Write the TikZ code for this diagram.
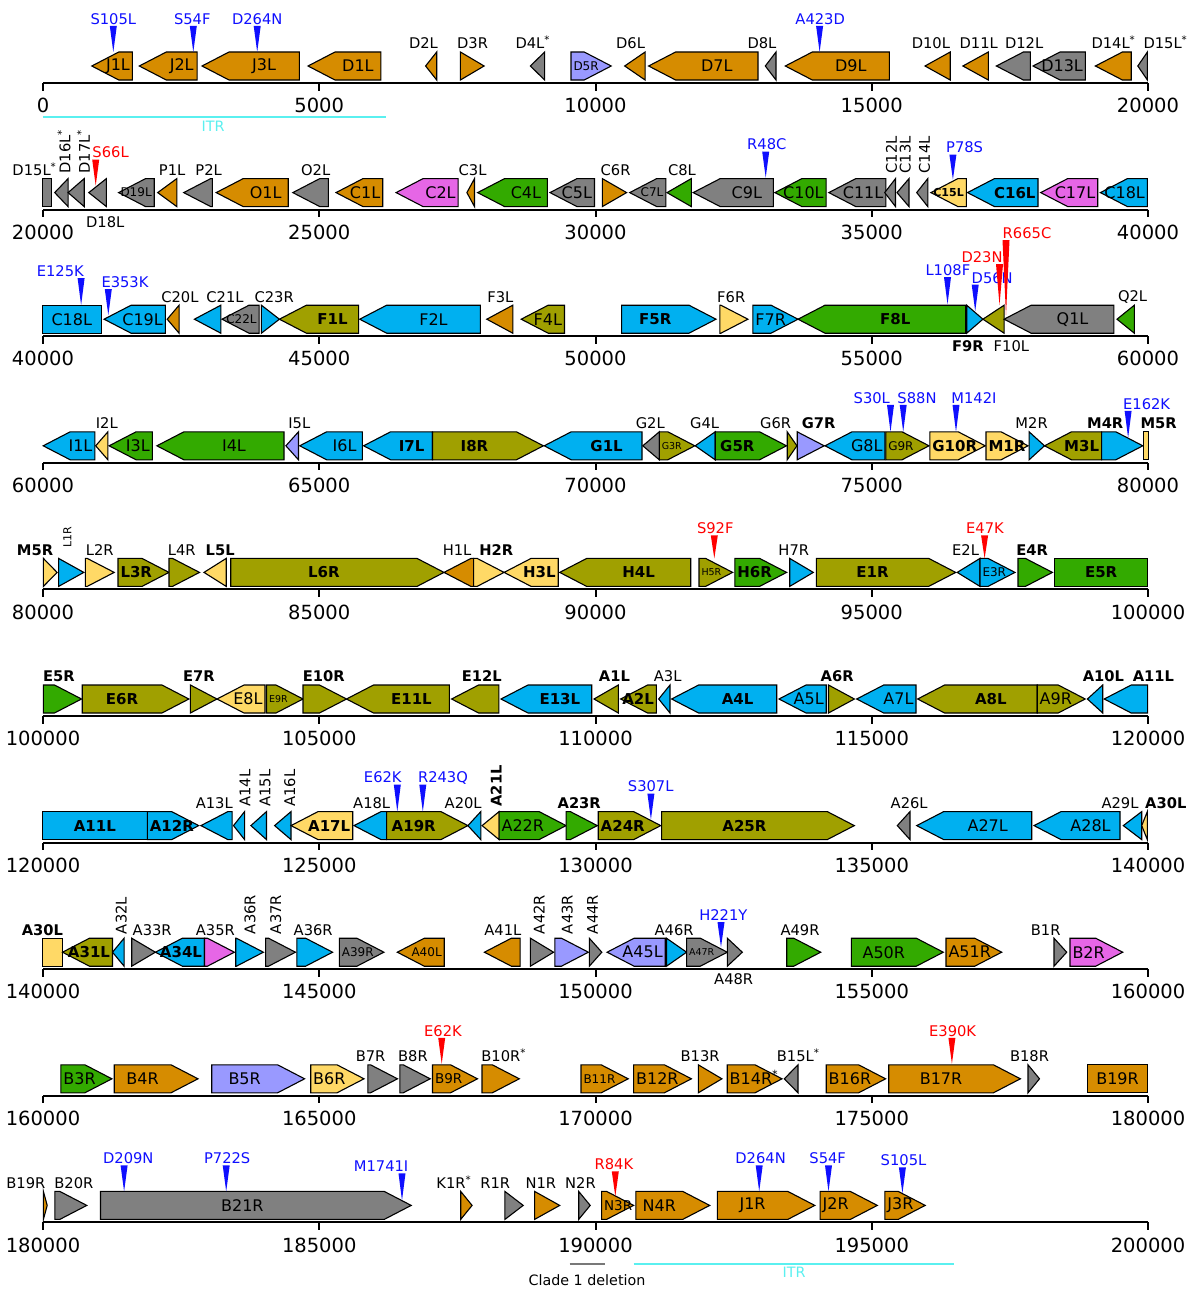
\documentclass[tikz,border=0pt]{standalone}
\usepackage{fontspec}
\setmainfont{DejaVu Sans}
\definecolor{org}{RGB}{214,140,0}
\definecolor{gry}{RGB}{128,128,128}
\definecolor{lav}{RGB}{153,153,255}
\definecolor{mag}{RGB}{230,102,230}
\definecolor{grn}{RGB}{51,170,0}
\definecolor{blu}{RGB}{0,176,240}
\definecolor{olv}{RGB}{160,160,0}
\definecolor{yel}{RGB}{255,217,102}
\definecolor{mblue}{RGB}{15,15,255}
\definecolor{mred}{RGB}{255,0,0}
\definecolor{itrc}{RGB}{90,240,240}
\definecolor{clgray}{RGB}{120,120,120}
\newcommand\gfN{\fontsize{16}{19}\selectfont}
\newcommand\gfB{\fontsize{15}{18}\selectfont\bfseries}
\newcommand\gfS{\fontsize{12}{14}\selectfont}
\newcommand\gfT{\fontsize{9.5}{11}\selectfont}
\newcommand\gfM{\fontsize{13.5}{16}\selectfont}
\newcommand\gfSB{\fontsize{11}{13}\selectfont\bfseries}
\newcommand\gfA{\fontsize{14.7}{17}\selectfont}
\newcommand\gfAB{\fontsize{14.7}{17}\selectfont\bfseries}
\newcommand\gfR{\fontsize{11}{13}\selectfont}
\newcommand\gfTick{\fontsize{19.5}{23}\selectfont}
\newcommand\gfI{\fontsize{14.3}{17}\selectfont}
\newcommand\astr{\rlap{\smash{\textsuperscript{*}}}}
\newcount\nodec
\newsavebox\Gbox
\pgfdeclarelayer{genelayer}
\pgfsetlayers{genelayer,main}
\tikzset{gshape/.style={draw=black,line width=1.1pt,line join=miter},
  axisl/.style={line width=2pt,black}}
% gene: dir x1 x2 color label font
\newcommand\gene[6]{%
  \def\Gtmp{#5}%
  \ifx\Gtmp\empty\def\Gw{0}\else
    \pgfinterruptpicture\global\setbox\Gbox=\hbox{\normalfont#6#5}\endpgfinterruptpicture
    \pgfmathsetmacro\Gw{\the\wd\Gbox}\fi
  \pgfmathsetmacro\Gh{min(27,#3-#2)}%
  \if#1R%
    \pgfmathsetmacro\Gs{#3-\Gh}%
    \begin{pgfonlayer}{genelayer}\filldraw[gshape,fill=#4] (#2,\ya-31) -- (\Gs,\ya-31) -- (#3,\ya-17) -- (\Gs,\ya-3) -- (#2,\ya-3) -- cycle;\end{pgfonlayer}%
    \pgfmathsetmacro\Gx{max((#2+\Gs)/2,#2+2.5+\Gw/2)}%
  \else\if#1L%
    \pgfmathsetmacro\Gs{#2+\Gh}%
    \begin{pgfonlayer}{genelayer}\filldraw[gshape,fill=#4] (#3,\ya-31) -- (\Gs,\ya-31) -- (#2,\ya-17) -- (\Gs,\ya-3) -- (#3,\ya-3) -- cycle;\end{pgfonlayer}%
    \pgfmathsetmacro\Gx{min((#3+\Gs)/2,#3-2.5-\Gw/2)}%
  \else
    \begin{pgfonlayer}{genelayer}\filldraw[gshape,fill=#4] (#2,\ya-31) rectangle (#3,\ya-3);\end{pgfonlayer}%
    \pgfmathsetmacro\Gx{(#2+#3)/2}%
  \fi\fi
  \ifx\Gtmp\empty\else\global\advance\nodec by 1 \node[inner sep=0pt] (g\the\nodec) at (\Gx,\ya-17) {#6#5};\fi
}
\newcommand\alab[3]{\global\advance\nodec by 1 \node[inner sep=0pt] (a\the\nodec) at (#1,\ya-39.5) {#3#2};}
\newcommand\blab[4]{\global\advance\nodec by 1 \node[inner sep=0pt] (b\the\nodec) at (#1,\ya+#4) {#3#2};}
\newcommand\rlab[4]{\global\advance\nodec by 1 \node[inner sep=0pt,rotate=90,anchor=west] (r\the\nodec) at (#1,\ya-#4) {#3#2};}
% mutation: x labelx L T text color
\newcommand\mut[6]{%
  \fill[#6] (#1-3.5,\ya-#3+7) -- (#1+3.5,\ya-#3+7) -- (#1,\ya-#4) -- cycle;
  \global\advance\nodec by 1 \node[inner sep=0pt,text=#6] (m\the\nodec) at (#2,\ya-#3) {\gfA #5};}
\newcommand\axisrow[1]{%
  \draw[axisl] (43,\ya) -- (1148,\ya);
  \foreach \tv [count=\ti from 0] in {#1} {
    \draw[axisl] (43+276.25*\ti,\ya) -- (43+276.25*\ti,\ya+7.5);
    \node[inner sep=0pt,font=\gfTick] (t\ti-\tv) at (43+276.25*\ti,\ya+22.5) {\tv};
  }}
\begin{document}
\begin{tikzpicture}[x=1pt,y=-1pt]
\useasboundingbox (0,0) rectangle (1194,1290);
\begin{pgfonlayer}{genelayer}\fill[white] (0,0) rectangle (1194,1290);\end{pgfonlayer}
% ---------------- row 1
\def\ya{83}
\axisrow{0,5000,10000,15000,20000}
\gene{L}{91.8}{132.4}{org}{J1L}{\gfN}
\gene{L}{139.3}{197.1}{org}{J2L}{\gfN}
\gene{L}{202}{299.3}{org}{J3L}{\gfN}
\gene{L}{308}{380.8}{org}{D1L}{\gfN}
\gene{L}{425.6}{436.7}{org}{}{\gfN}
\gene{R}{460.4}{484.1}{org}{}{\gfN}
\gene{L}{530.4}{544.6}{gry}{}{\gfN}
\gene{R}{571}{611.2}{lav}{D5R}{\gfS}
\gene{L}{624.7}{645.1}{org}{}{\gfN}
\gene{L}{648.6}{758}{org}{D7L}{\gfN}
\gene{L}{765.3}{776}{gry}{}{\gfN}
\gene{L}{785.3}{889.3}{org}{D9L}{\gfN}
\gene{L}{925}{950.2}{org}{}{\gfN}
\gene{L}{962.9}{988.3}{org}{}{\gfN}
\gene{L}{996.4}{1030.3}{gry}{}{\gfN}
\gene{L}{1033}{1085.4}{gry}{D13L}{\gfN}
\gene{L}{1095.4}{1131.2}{org}{}{\gfN}
\gene{L}{1137.8}{1147.4}{gry}{}{\gfN}
\alab{423.5}{D2L}{\gfA}
\alab{472.6}{D3R}{\gfA}
\alab{530}{D4L\astr}{\gfA}
\alab{630.6}{D6L}{\gfA}
\alab{762}{D8L}{\gfA}
\alab{930.9}{D10L}{\gfA}
\alab{978.7}{D11L}{\gfA}
\alab{1024.1}{D12L}{\gfA}
\alab{1110.6}{D14L\astr}{\gfA}
\alab{1162.6}{D15L\astr}{\gfA}
\mut{113.3}{113.3}{64}{31}{S105L}{mblue}
\mut{193.3}{192.3}{64}{31}{S54F}{mblue}
\mut{257.2}{257.2}{64}{31}{D264N}{mblue}
\mut{819.6}{820.2}{64}{31}{A423D}{mblue}
\draw[itrc,line width=2pt] (42.9,116.7) -- (385.8,116.7);
\node[inner sep=0pt,text=itrc] (itr1) at (213,126) {\gfI ITR};
% ---------------- row 2
\def\ya{209.6}
\axisrow{20000,25000,30000,35000,40000}
\gene{B}{42.1}{51.7}{gry}{}{\gfN}
\gene{L}{54.7}{68.1}{gry}{}{\gfN}
\gene{L}{68.1}{84.2}{gry}{}{\gfN}
\gene{L}{88.8}{106.4}{gry}{}{\gfN}
\gene{L}{118.6}{154.2}{gry}{D19L}{\gfS}
\gene{L}{157.7}{176.8}{org}{}{\gfN}
\gene{L}{183.7}{212.4}{gry}{}{\gfN}
\gene{L}{216.2}{288.2}{org}{O1L}{\gfN}
\gene{L}{292.8}{328.4}{gry}{}{\gfN}
\gene{L}{336}{382.7}{org}{C1L}{\gfN}
\gene{L}{396.1}{458.1}{mag}{C2L}{\gfN}
\gene{L}{466.9}{474.5}{org}{}{\gfN}
\gene{L}{477.6}{547.3}{grn}{C4L}{\gfN}
\gene{L}{550}{594.5}{gry}{C5L}{\gfN}
\gene{R}{602.3}{626.6}{org}{}{\gfN}
\gene{L}{629.7}{665.9}{gry}{C7L}{\gfS}
\gene{L}{667}{691.3}{grn}{}{\gfN}
\gene{L}{693.2}{773.4}{gry}{C9L}{\gfN}
\gene{L}{774.9}{826.1}{grn}{C10L}{\gfN}
\gene{L}{828.8}{885.8}{gry}{C11L}{\gfN}
\gene{L}{884.7}{895.5}{gry}{}{\gfN}
\gene{L}{897}{909}{gry}{}{\gfN}
\gene{L}{916.7}{927.8}{gry}{}{\gfN}
\gene{L}{930.9}{966.3}{yel}{C15L}{\gfSB}
\gene{L}{967.5}{1038}{blu}{C16L}{\gfB}
\gene{L}{1040.7}{1097.7}{mag}{C17L}{\gfN}
\gene{L}{1100.4}{1147.4}{blu}{C18L}{\gfN}
\alab{31.6}{D15L\astr}{\gfA}
\rlab{65}{D16L\astr}{\gfA}{36}
\rlab{84.6}{D17L\astr}{\gfA}{36}
\blab{105.2}{D18L}{\gfA}{13}
\alab{172.2}{P1L}{\gfA}
\alab{208.6}{P2L}{\gfA}
\alab{315.7}{O2L}{\gfA}
\alab{472.6}{C3L}{\gfA}
\alab{615.6}{C6R}{\gfA}
\alab{681.9}{C8L}{\gfA}
\rlab{891.4}{C12L}{\gfA}{36}
\rlab{905.3}{C13L}{\gfA}{36}
\rlab{924.6}{C14L}{\gfA}{36}
\mut{95.7}{110.6}{57}{24}{S66L}{mred}
\mut{765.7}{766.8}{65}{32}{R48C}{mblue}
\mut{952.9}{964.6}{62}{30}{P78S}{mblue}
% ---------------- row 3
\def\ya{336.2}
\axisrow{40000,45000,50000,55000,60000}
\gene{B}{42.1}{101.4}{blu}{C18L}{\gfN}
\gene{L}{104.1}{165.3}{blu}{C19L}{\gfN}
\gene{L}{167.2}{179.1}{org}{}{\gfN}
\gene{L}{194.4}{220.8}{blu}{}{\gfN}
\gene{L}{222}{259.1}{gry}{C22L}{\gfS}
\gene{R}{261.4}{279.4}{blu}{}{\gfN}
\gene{L}{279.4}{358.6}{olv}{F1L}{\gfB}
\gene{L}{359.7}{480.3}{blu}{F2L}{\gfN}
\gene{L}{486.8}{512.8}{org}{}{\gfN}
\gene{L}{521.2}{564.5}{olv}{F4L}{\gfN}
\gene{R}{621.6}{716}{blu}{F5R}{\gfB}
\gene{R}{719.8}{747.9}{yel}{}{\gfN}
\gene{R}{752.9}{798}{blu}{F7R}{\gfN}
\gene{L}{798}{965.6}{grn}{F8L}{\gfB}
\gene{R}{966.7}{982.9}{blu}{}{\gfN}
\gene{L}{982.9}{1004.1}{olv}{}{\gfN}
\gene{L}{1004.1}{1113.9}{gry}{Q1L}{\gfN}
\gene{L}{1117}{1134.3}{grn}{}{\gfN}
\alab{179.9}{C20L}{\gfA}
\alab{225}{C21L}{\gfA}
\alab{274.2}{C23R}{\gfA}
\alab{500.4}{F3L}{\gfA}
\alab{731.2}{F6R}{\gfA}
\blab{967.9}{F9R}{\gfAB}{9.5}
\blab{1011.4}{F10L}{\gfA}{9.5}
\alab{1132.6}{Q2L}{\gfA}
\mut{81.1}{60.3}{65}{31}{E125K}{mblue}
\mut{108.3}{125}{54}{21}{E353K}{mblue}
\mut{947.5}{947.9}{66}{32}{L108F}{mblue}
\mut{975.2}{992.2}{58.5}{25}{D56N}{mblue}
\mut{999.5}{982}{79}{31}{D23N}{mred}
\mut{1006}{1027}{103}{21}{R665C}{mred}
% ---------------- row 4
\def\ya{462.8}
\axisrow{60000,65000,70000,75000,80000}
\gene{L}{43.2}{94.9}{blu}{I1L}{\gfN}
\gene{L}{95.7}{107.9}{yel}{}{\gfN}
\gene{L}{109.1}{152.3}{grn}{I3L}{\gfN}
\gene{L}{156.9}{284}{grn}{I4L}{\gfN}
\gene{L}{285.9}{298.5}{lav}{}{\gfN}
\gene{L}{299.7}{362.4}{blu}{I6L}{\gfN}
\gene{L}{363.6}{432.5}{blu}{I7L}{\gfB}
\gene{R}{432.5}{543.4}{olv}{I8R}{\gfB}
\gene{L}{544.2}{642}{blu}{G1L}{\gfB}
\gene{L}{642.8}{659.3}{gry}{}{\gfN}
\gene{R}{659.3}{694.8}{olv}{G3R}{\gfT}
\gene{L}{695.2}{715.2}{blu}{}{\gfN}
\gene{R}{715.2}{786.5}{grn}{G5R}{\gfB}
\gene{R}{787.2}{796.9}{olv}{}{\gfN}
\gene{R}{797.2}{824.2}{lav}{}{\gfN}
\gene{L}{825}{885}{blu}{G8L}{\gfN}
\gene{R}{885.8}{929}{olv}{G9R}{\gfS}
\gene{R}{929.8}{985.2}{yel}{G10R}{\gfB}
\gene{R}{986}{1028}{yel}{M1R}{\gfB}
\gene{R}{1029.1}{1044.5}{blu}{}{\gfN}
\gene{L}{1044.5}{1101.6}{olv}{M3L}{\gfB}
\gene{R}{1101.6}{1142.8}{blu}{}{\gfN}
\gene{B}{1143.5}{1148.5}{yel}{}{\gfN}
\alab{106.8}{I2L}{\gfA}
\alab{299.3}{I5L}{\gfA}
\alab{650.3}{G2L}{\gfA}
\alab{704.6}{G4L}{\gfA}
\alab{775.7}{G6R}{\gfA}
\alab{818.6}{G7R}{\gfAB}
\alab{1031.6}{M2R}{\gfA}
\alab{1105.2}{M4R}{\gfAB}
\alab{1158.6}{M5R}{\gfAB}
\mut{890.5}{871.8}{65}{31}{S30L}{mblue}
\mut{903.2}{917}{65}{31}{S88N}{mblue}
\mut{956}{973.9}{65}{31}{M142I}{mblue}
\mut{1128.1}{1146.6}{59}{25}{E162K}{mblue}
% ---------------- row 5
\def\ya{589.4}
\axisrow{80000,85000,90000,95000,100000}
\gene{R}{43.4}{57.1}{yel}{}{\gfN}
\gene{R}{58.6}{83.8}{blu}{}{\gfN}
\gene{R}{85.3}{114.2}{yel}{}{\gfN}
\gene{R}{118}{169}{olv}{L3R}{\gfB}
\gene{R}{169}{199.5}{olv}{}{\gfN}
\gene{L}{204}{226.2}{yel}{}{\gfN}
\gene{R}{230.7}{444}{olv}{L6R}{\gfB}
\gene{L}{444}{473.6}{org}{}{\gfN}
\gene{R}{473.6}{504.1}{yel}{}{\gfN}
\gene{L}{504.1}{558.2}{yel}{H3L}{\gfB}
\gene{L}{559.7}{690.7}{olv}{H4L}{\gfB}
\gene{R}{699}{732.6}{olv}{H5R}{\gfT}
\gene{R}{734.8}{786.6}{grn}{H6R}{\gfB}
\gene{R}{789.7}{813.3}{blu}{}{\gfN}
\gene{R}{816.3}{955.7}{olv}{E1R}{\gfB}
\gene{L}{957.2}{980}{blu}{}{\gfN}
\gene{R}{980}{1015}{blu}{E3R}{\gfS}
\gene{R}{1018}{1052.4}{grn}{}{\gfN}
\gene{B}{1054.7}{1147.6}{grn}{E5R}{\gfB}
\alab{35}{M5R}{\gfAB}
\rlab{67.4}{L1R}{\gfR}{42}
\alab{99.8}{L2R}{\gfA}
\alab{181.7}{L4R}{\gfA}
\alab{220.2}{L5L}{\gfAB}
\alab{457.1}{H1L}{\gfA}
\alab{496.3}{H2R}{\gfAB}
\alab{793.8}{H7R}{\gfA}
\alab{965.6}{E2L}{\gfA}
\alab{1032.2}{E4R}{\gfAB}
\mut{714.3}{715.3}{61}{31}{S92F}{mred}
\mut{984.6}{985}{61}{31}{E47K}{mred}
% ---------------- row 6
\def\ya{716}
\axisrow{100000,105000,110000,115000,120000}
\gene{R}{43.4}{81.5}{grn}{}{\gfN}
\gene{R}{82.2}{188.9}{olv}{E6R}{\gfB}
\gene{R}{190.4}{217}{olv}{}{\gfN}
\gene{L}{217}{265}{yel}{E8L}{\gfN}
\gene{R}{266.5}{303}{olv}{E9R}{\gfT}
\gene{R}{303}{346.5}{olv}{}{\gfN}
\gene{L}{346.5}{449.3}{olv}{E11L}{\gfB}
\gene{L}{451.6}{498.8}{olv}{}{\gfN}
\gene{L}{501}{591.7}{blu}{E13L}{\gfB}
\gene{L}{594}{618.3}{olv}{}{\gfN}
\gene{L}{620.6}{656.4}{olv}{A2L}{\gfB}
\gene{L}{658.7}{670}{blu}{}{\gfN}
\gene{L}{671.6}{776.7}{blu}{A4L}{\gfB}
\gene{L}{779}{826.2}{blu}{A5L}{\gfN}
\gene{R}{828.5}{854.4}{olv}{}{\gfN}
\gene{L}{856.7}{916}{blu}{A7L}{\gfN}
\gene{L}{917.6}{1037.2}{olv}{A8L}{\gfB}
\gene{R}{1037.2}{1085.2}{olv}{A9R}{\gfN}
\gene{L}{1087.4}{1102.7}{blu}{}{\gfN}
\gene{L}{1104.2}{1147.6}{blu}{}{\gfN}
\alab{59}{E5R}{\gfAB}
\alab{198.8}{E7R}{\gfAB}
\alab{323.8}{E10R}{\gfAB}
\alab{481.8}{E12L}{\gfAB}
\alab{614.4}{A1L}{\gfAB}
\alab{667.7}{A3L}{\gfA}
\alab{837.2}{A6R}{\gfAB}
\alab{1103.4}{A10L}{\gfAB}
\alab{1153.4}{A11L}{\gfAB}
% ---------------- row 7
\def\ya{842.6}
\axisrow{120000,125000,130000,135000,140000}
\gene{B}{42.4}{147.3}{blu}{A11L}{\gfB}
\gene{R}{147.3}{198.7}{blu}{A12R}{\gfB}
\gene{L}{200.9}{232.1}{blu}{}{\gfN}
\gene{L}{233.5}{244.6}{blu}{}{\gfN}
\gene{L}{250.9}{266.5}{blu}{}{\gfN}
\gene{L}{274.6}{291}{blu}{}{\gfN}
\gene{L}{291}{352.7}{yel}{A17L}{\gfB}
\gene{L}{354}{386.6}{blu}{}{\gfN}
\gene{R}{386.6}{467.9}{olv}{A19R}{\gfB}
\gene{L}{467.9}{480.8}{blu}{}{\gfN}
\gene{L}{482.1}{499.1}{yel}{}{\gfN}
\gene{R}{499.1}{566.1}{grn}{A22R}{\gfN}
\gene{R}{566.1}{597.3}{grn}{}{\gfN}
\gene{R}{598.2}{660.7}{olv}{A24R}{\gfB}
\gene{R}{661.6}{854.3}{olv}{A25R}{\gfB}
\gene{L}{897.3}{910}{gry}{}{\gfN}
\gene{L}{916.7}{1031.7}{blu}{A27L}{\gfN}
\gene{L}{1034}{1120}{blu}{A28L}{\gfN}
\gene{L}{1123.3}{1141.7}{blu}{}{\gfN}
\gene{L}{1141.7}{1147.3}{yel}{}{\gfN}
\alab{214.3}{A13L}{\gfA}
\rlab{245.1}{A14L}{\gfA}{36}
\rlab{265}{A15L}{\gfA}{36}
\rlab{289.7}{A16L}{\gfA}{36}
\alab{371.7}{A18L}{\gfA}
\alab{463.2}{A20L}{\gfA}
\rlab{496.2}{A21L}{\gfAB}{36}
\alab{579.2}{A23R}{\gfAB}
\alab{909.2}{A26L}{\gfA}
\alab{1120}{A29L}{\gfA}
\alab{1165.8}{A30L}{\gfAB}
\mut{397.3}{382.8}{65}{31}{E62K}{mblue}
\mut{422.8}{443}{65}{31}{R243Q}{mblue}
\mut{650.9}{650.7}{56}{23}{S307L}{mblue}
% ---------------- row 8
\def\ya{969.2}
\axisrow{140000,145000,150000,155000,160000}
\gene{B}{42.4}{62.5}{yel}{}{\gfN}
\gene{L}{62.5}{112.5}{olv}{A31L}{\gfB}
\gene{L}{112.5}{124.1}{blu}{}{\gfN}
\gene{R}{131.7}{155.4}{gry}{}{\gfN}
\gene{L}{155.4}{204.5}{blu}{A34L}{\gfB}
\gene{R}{204.5}{234.4}{mag}{}{\gfN}
\gene{R}{235.7}{263.4}{blu}{}{\gfN}
\gene{R}{265.6}{295.5}{gry}{}{\gfN}
\gene{R}{296.9}{332.6}{blu}{}{\gfN}
\gene{R}{339.3}{383.9}{gry}{A39R}{\gfS}
\gene{L}{397.3}{444.2}{org}{A40L}{\gfS}
\gene{L}{484.4}{520.1}{org}{}{\gfN}
\gene{R}{530.4}{553.6}{gry}{}{\gfN}
\gene{R}{554.9}{588.4}{lav}{}{\gfN}
\gene{R}{589.3}{601.8}{gry}{}{\gfN}
\gene{L}{607.1}{665.2}{lav}{A45L}{\gfN}
\gene{R}{666.5}{686.6}{blu}{}{\gfN}
\gene{R}{686.6}{727.3}{gry}{A47R}{\gfT}
\gene{R}{727.3}{742.3}{gry}{}{\gfN}
\gene{R}{786.7}{820.7}{grn}{}{\gfN}
\gene{R}{851.3}{943.3}{grn}{A50R}{\gfN}
\gene{R}{946}{1001.7}{org}{A51R}{\gfN}
\gene{R}{1054}{1066.7}{gry}{}{\gfN}
\gene{R}{1070}{1122.7}{mag}{B2R}{\gfN}
\alab{42.4}{A30L}{\gfAB}
\rlab{121.2}{A32L}{\gfA}{35}
\alab{152.2}{A33R}{\gfA}
\alab{215.4}{A35R}{\gfA}
\rlab{250}{A36R}{\gfA}{35}
\rlab{275.7}{A37R}{\gfA}{35}
\alab{313.2}{A36R}{\gfA}
\alab{502.9}{A41L}{\gfA}
\rlab{539.1}{A42R}{\gfA}{35}
\rlab{567.2}{A43R}{\gfA}{35}
\rlab{592.6}{A44R}{\gfA}{35}
\alab{674.1}{A46R}{\gfA}
\blab{733.7}{A48R}{\gfA}{10}
\alab{800}{A49R}{\gfA}
\alab{1045.7}{B1R}{\gfA}
\mut{721}{723.3}{54}{22}{H221Y}{mblue}
% ---------------- row 9
\def\ya{1095.8}
\axisrow{160000,165000,170000,175000,180000}
\gene{R}{60.9}{111.9}{grn}{B3R}{\gfN}
\gene{R}{114.2}{198}{org}{B4R}{\gfN}
\gene{R}{211.7}{304.6}{lav}{B5R}{\gfN}
\gene{R}{310.7}{364}{yel}{B6R}{\gfN}
\gene{R}{367.8}{397.5}{gry}{}{\gfN}
\gene{R}{399.8}{430.2}{gry}{}{\gfN}
\gene{R}{432.5}{477.5}{org}{B9R}{\gfM}
\gene{R}{482}{519.3}{org}{}{\gfN}
\gene{R}{581}{628.2}{org}{B11R}{\gfS}
\gene{R}{633.6}{691.4}{org}{B12R}{\gfN}
\gene{R}{698.3}{721.9}{org}{}{\gfN}
\gene{R}{727.2}{782}{org}{B14R\astr}{\gfN}
\gene{L}{784.3}{798}{gry}{}{\gfN}
\gene{R}{826.2}{885.6}{org}{B16R}{\gfN}
\gene{R}{888.7}{1020.4}{org}{B17R}{\gfN}
\gene{R}{1028}{1039.5}{gry}{}{\gfN}
\gene{B}{1087.4}{1147.6}{org}{B19R}{\gfN}
\alab{370.6}{B7R}{\gfA}
\alab{412.9}{B8R}{\gfA}
\alab{500.9}{B10R\astr}{\gfA}
\alab{700.1}{B13R}{\gfA}
\alab{795.3}{B15L\astr}{\gfA}
\alab{1029.5}{B18R}{\gfA}
\mut{441.7}{443}{65}{32}{E62K}{mred}
\mut{951.9}{952.6}{65}{32}{E390K}{mred}
% ---------------- row 10
\def\ya{1222.4}
\axisrow{180000,185000,190000,195000,200000}
\gene{R}{43.4}{47.2}{org}{}{\gfN}
\gene{R}{54.8}{86.8}{gry}{}{\gfN}
\gene{R}{100.5}{411.2}{gry}{B21R}{\gfN}
\gene{R}{460.7}{472.1}{org}{}{\gfN}
\gene{R}{504.9}{523.2}{gry}{}{\gfN}
\gene{R}{534.6}{559.7}{org}{}{\gfN}
\gene{R}{578.7}{590.2}{gry}{}{\gfN}
\gene{R}{601.6}{633.6}{org}{N3R}{\gfM}
\gene{R}{635.8}{709.7}{org}{N4R}{\gfN}
\gene{R}{717.3}{814.8}{org}{J1R}{\gfN}
\gene{R}{820.1}{877.3}{org}{J2R}{\gfN}
\gene{R}{884.9}{925.2}{org}{J3R}{\gfN}
\alab{25.9}{B19R}{\gfA}
\alab{73.9}{B20R}{\gfA}
\alab{451}{K1R\astr}{\gfA}
\alab{495.2}{R1R}{\gfA}
\alab{540.9}{N1R}{\gfA}
\alab{580.5}{N2R}{\gfA}
\mut{124.1}{128.3}{64}{31}{D209N}{mblue}
\mut{226.2}{227.2}{64}{31}{P722S}{mblue}
\mut{402}{381.1}{56}{22}{M1741I}{mblue}
\mut{615.3}{613.9}{58}{26}{R84K}{mred}
\mut{759.2}{760.6}{64}{31}{D264N}{mblue}
\mut{828.5}{827.7}{64}{31}{S54F}{mblue}
\mut{902.4}{903.5}{62}{29}{S105L}{mblue}
\draw[clgray,line width=2pt] (569.6,1263.7) -- (605.4,1263.7);
\draw[itrc,line width=2pt] (633.6,1263.7) -- (954.2,1263.7);
\node[inner sep=0pt,text=itrc] (itr2) at (794,1272) {\gfI ITR};
\node[inner sep=0pt] (clade) at (587,1280) {\gfI Clade 1 deletion};
\end{tikzpicture}
\end{document}
